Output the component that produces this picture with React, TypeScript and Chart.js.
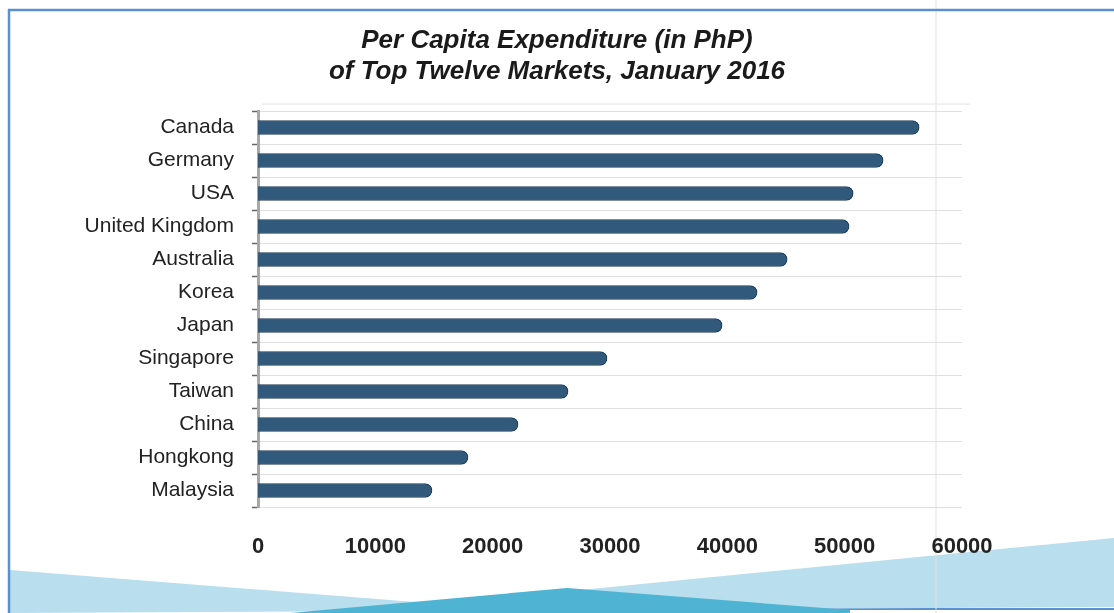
import React, { useEffect, useRef } from "react";
import { Chart, registerables } from "chart.js";

Chart.register(...registerables);

const titleLines = ["Per Capita Expenditure (in PhP)", "of Top Twelve Markets, January 2016"];
const markets = [
  "Canada",
  "Germany",
  "USA",
  "United Kingdom",
  "Australia",
  "Korea",
  "Japan",
  "Singapore",
  "Taiwan",
  "China",
  "Hongkong",
  "Malaysia",
];
const expenditure = [56350, 53280, 50730, 50380, 45100, 42540, 39560, 29750, 26430, 22170, 17900, 14830];
const xTicks = [0, 10000, 20000, 30000, 40000, 50000, 60000];

const centeredTitle = {
  id: "centeredTitle",
  afterDraw(chart: any) {
    const ctx = chart.ctx;
    ctx.save();
    ctx.fillStyle = "#1a1a1a";
    ctx.font = "italic bold 26px 'Liberation Sans', Arial, sans-serif";
    ctx.textAlign = "center";
    ctx.textBaseline = "middle";
    titleLines.forEach((line, i) => {
      ctx.fillText(line, chart.width / 2, 41 + i * 31);
    });
    ctx.restore();
  },
};

export default function App() {
  const canvasRef = useRef<HTMLCanvasElement | null>(null);

  useEffect(() => {
    const canvas = canvasRef.current;
    if (!canvas) return;
    const chart = new Chart(canvas, {
      type: "bar",
      data: {
        labels: markets,
        datasets: [
          {
            label: "Per Capita Expenditure",
            data: expenditure,
            backgroundColor: "#30597b",
            borderColor: "#1f3b55",
            borderWidth: 1,
            borderRadius: 7,
            borderSkipped: "start",
            barThickness: 14,
          },
        ],
      },
      options: {
        indexAxis: "y",
        animation: false,
        responsive: false,
        maintainAspectRatio: false,
        layout: { padding: { left: 0, right: 152, top: 111, bottom: 46 } },
        plugins: {
          legend: { display: false },
          tooltip: { enabled: false },
          title: { display: false },
        },
        scales: {
          x: {
            type: "linear",
            min: 0,
            max: 60000,
            afterBuildTicks: (scale: any) => {
              scale.ticks = xTicks.map((v) => ({ value: v }));
            },
            afterFit: (scale: any) => {
              scale.height = 60;
            },
            grid: { display: false, drawTicks: false },
            border: { display: false },
            ticks: {
              color: "#222",
              padding: 27,
              maxRotation: 0,
              font: { family: "'Liberation Sans', Arial, sans-serif", size: 22, weight: "bold" },
              callback: (v: any) => String(v),
            },
          },
          y: {
            type: "category",
            afterFit: (scale: any) => {
              scale.width = 258;
            },
            grid: {
              display: true,
              offset: true,
              color: "#e0e0e0",
              lineWidth: 1,
              borderDash: [3, 3],
              drawTicks: true,
              tickLength: 6,
              tickColor: "#666",
              tickWidth: 1.5,
            } as any,
            border: { display: true, color: "#a8a8a8", width: 3 },
            ticks: {
              color: "#222",
              padding: 18,
              font: { family: "'Liberation Sans', Arial, sans-serif", size: 21 },
            },
          },
        },
      },
      plugins: [centeredTitle],
    });
    return () => chart.destroy();
  }, []);

  return (
    <div style={{ position: "fixed", left: 0, top: 0, width: 1114, height: 613, background: "#fff", overflow: "hidden" }}>
      <svg width={1114} height={613} style={{ position: "absolute", left: 0, top: 0 }}>
        <line x1={600} y1={609} x2={1114} y2={609} stroke="#5b8fcf" strokeWidth={2} />
        <polygon points="10,570 440,604 560,592 1114,538 1114,607 10,613" fill="#b9deed" />
        <polygon points="290,613 567,588 850,610 850,613" fill="#4fb4d4" />
        <line x1={936} y1={0} x2={936} y2={613} stroke="#e0e0e0" strokeWidth={1} />
        <line x1={8} y1={10} x2={1114} y2={10} stroke="#5b8fcf" strokeWidth={2.5} />
        <line x1={9} y1={9} x2={9} y2={613} stroke="#5b8fcf" strokeWidth={2.5} />
        <line x1={262} y1={104} x2={970} y2={104} stroke="#e2e2e2" strokeWidth={1} />
      </svg>
      <canvas ref={canvasRef} width={1114} height={613} style={{ position: "absolute", left: 0, top: 0 }} />
    </div>
  );
}
